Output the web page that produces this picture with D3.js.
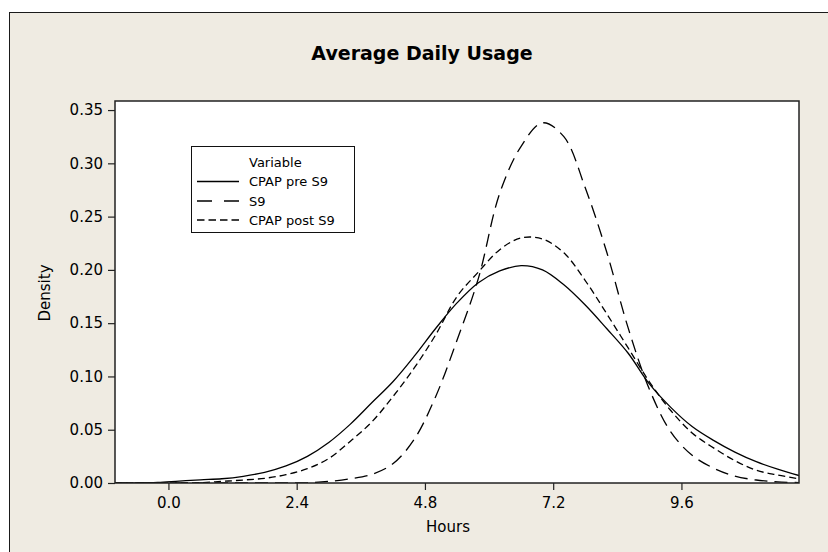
<!DOCTYPE html>
<html>
<head>
<meta charset="utf-8">
<script src="https://cdn.jsdelivr.net/npm/d3@7"></script>
<style>
  html, body { margin: 0; padding: 0; background: #ffffff; }
  svg { display: block; }
  text { font-family: "DejaVu Sans", Verdana, sans-serif; fill: #000; }
</style>
</head>
<body>
<svg id="chart" width="828" height="552"></svg>
<script>
// ---- Data ----
const hours    = [-1.0,-0.6,-0.2,0.2,0.6,1.0,1.4,1.8,2.2,2.6,3.0,3.4,3.8,4.2,4.6,5.0,5.4,5.8,6.2,6.6,7.0,7.4,7.8,8.2,8.6,9.0,9.4,9.8,10.2,10.6,11.0,11.4,11.8];
const cpapPre  = [0,0,0.0005,0.0018,0.003,0.004,0.0063,0.010,0.016,0.025,0.038,0.055,0.075,0.095,0.119,0.145,0.169,0.188,0.199,0.204,0.200,0.186,0.167,0.145,0.122,0.093,0.071,0.053,0.040,0.029,0.020,0.013,0.007];
const s9       = [0,0,0,0,0,0,0,0,0,0.0002,0.0015,0.004,0.008,0.018,0.041,0.081,0.134,0.192,0.272,0.316,0.338,0.325,0.277,0.217,0.146,0.088,0.048,0.026,0.014,0.0065,0.0028,0.001,0.0004];
const cpapPost = [0,0,0,0,0.0003,0.0015,0.0028,0.0044,0.0078,0.0135,0.023,0.039,0.057,0.081,0.108,0.139,0.175,0.198,0.219,0.230,0.229,0.216,0.190,0.159,0.127,0.095,0.068,0.047,0.033,0.021,0.012,0.0075,0.004];
const seriesNames = ["CPAP pre S9", "S9", "CPAP post S9"];
const xTicks = [0.0, 2.4, 4.8, 7.2, 9.6];
const yTicks = [0.00, 0.05, 0.10, 0.15, 0.20, 0.25, 0.30, 0.35];
const titleText = "Average Daily Usage";
const xLabel = "Hours";
const yLabel = "Density";
const legendTitle = "Variable";

// ---- Layout ----
const svg = d3.select("#chart");
const plot = { left: 115, right: 799, top: 101, bottom: 483 };
const bg = "#efebe2";

// outer frame
svg.append("rect").attr("x", 9.5).attr("y", 12.5).attr("width", 900).attr("height", 600)
  .attr("fill", bg).attr("stroke", "#1a1a1a").attr("stroke-width", 1);

const x = d3.scaleLinear().domain([-1.0, 11.8]).range([plot.left, plot.right]);
const y = d3.scaleLinear().domain([0, 0.3585]).range([plot.bottom, plot.top]);

// plot background
svg.append("rect").attr("x", plot.left).attr("y", plot.top)
  .attr("width", plot.right - plot.left).attr("height", plot.bottom - plot.top)
  .attr("fill", "#ffffff");

svg.append("clipPath").attr("id", "clip").append("rect")
  .attr("x", plot.left).attr("y", plot.top)
  .attr("width", plot.right - plot.left).attr("height", plot.bottom - plot.top);

// curves
const styles = [
  { data: cpapPre,  dash: null,   legendDash: null },
  { data: s9,       dash: "13,7", legendDash: "15,12" },
  { data: cpapPost, dash: "7,4",  legendDash: "7.5,4" }
];
const line = d3.line()
  .x((d, i) => x(hours[i]))
  .y(d => y(d))
  .curve(d3.curveCatmullRom.alpha(0.5));

const g = svg.append("g").attr("clip-path", "url(#clip)");
styles.forEach(s => {
  g.append("path").datum(s.data)
    .attr("d", line)
    .attr("fill", "none")
    .attr("stroke", "#000")
    .attr("stroke-width", 1.3)
    .attr("stroke-dasharray", s.dash);
});

// plot border
svg.append("rect").attr("x", plot.left).attr("y", plot.top)
  .attr("width", plot.right - plot.left).attr("height", plot.bottom - plot.top)
  .attr("fill", "none").attr("stroke", "#222").attr("stroke-width", 1.5);

// axes
const yAxis = d3.axisLeft(y).tickValues(yTicks).tickFormat(d3.format(".2f"))
  .tickSize(7).tickPadding(5);
const gy = svg.append("g").attr("transform", `translate(${plot.left},0)`).call(yAxis);
gy.select(".domain").remove();
gy.selectAll("line").attr("stroke", "#222").attr("stroke-width", 1.2);
gy.selectAll("text").attr("font-size", 15).attr("font-family", "DejaVu Sans").attr("fill", "#000");

const xAxis = d3.axisBottom(x).tickValues(xTicks).tickFormat(d3.format(".1f"))
  .tickSize(7).tickPadding(7);
const gx = svg.append("g").attr("transform", `translate(0,${plot.bottom})`).call(xAxis);
gx.select(".domain").remove();
gx.selectAll("line").attr("stroke", "#222").attr("stroke-width", 1.2);
gx.selectAll("text").attr("font-size", 15).attr("font-family", "DejaVu Sans").attr("fill", "#000");

// title and axis labels
svg.append("text").attr("x", 422).attr("y", 60).attr("text-anchor", "middle")
  .attr("font-size", 19).attr("font-weight", "bold").text(titleText);
svg.append("text").attr("x", 448).attr("y", 532).attr("text-anchor", "middle")
  .attr("font-size", 15).text(xLabel);
svg.append("text").attr("transform", "translate(50,293) rotate(-90)")
  .attr("text-anchor", "middle").attr("font-size", 15).text(yLabel);

// legend
const lg = svg.append("g");
lg.append("rect").attr("x", 191.5).attr("y", 146.5).attr("width", 163).attr("height", 86)
  .attr("fill", "#fff").attr("stroke", "#111").attr("stroke-width", 1);
lg.append("text").attr("x", 249).attr("y", 166.5).attr("font-size", 13).text(legendTitle);
const rowY = [181.5, 201, 220];
seriesNames.forEach((name, i) => {
  lg.append("line").attr("x1", 197).attr("x2", 239).attr("y1", rowY[i]).attr("y2", rowY[i])
    .attr("stroke", "#000").attr("stroke-width", 1.3)
    .attr("stroke-dasharray", styles[i].legendDash);
  lg.append("text").attr("x", 249).attr("y", rowY[i] + 4.8).attr("font-size", 13).text(name);
});
</script>
</body>
</html>
